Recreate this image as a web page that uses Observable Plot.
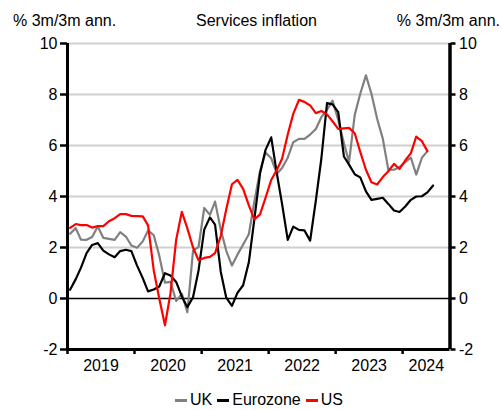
<!DOCTYPE html>
<html>
<head>
<meta charset="utf-8">
<script src="https://cdn.jsdelivr.net/npm/d3@7"></script>
<script src="https://cdn.jsdelivr.net/npm/@observablehq/plot@0.6"></script>
<style>
  html, body { margin: 0; padding: 0; background: #fff; }
  #page { position: relative; width: 502px; height: 410px; font-family: "Liberation Sans", Arial, sans-serif; font-size: 16px; color: #000; overflow: hidden; }
  .hdr { position: absolute; top: 13px; line-height: 16px; white-space: nowrap; }
  #chart { position: absolute; left: 0; top: 33px; }
  #legend { position: absolute; left: 175px; top: 391px; height: 18px; display: flex; align-items: center; white-space: nowrap; line-height: 16px; }
  .sw { display: inline-block; width: 12px; height: 3px; margin-right: 3px; }
  .lab { margin-right: 5px; }
</style>
</head>
<body>
<div id="page">
  <div class="hdr" style="left:13px;">% 3m/3m ann.</div>
  <div class="hdr" style="left:196px;">Services inflation</div>
  <div class="hdr" style="right:2px;">% 3m/3m ann.</div>
  <div id="chart"></div>
  <div id="legend"></div>
</div>
<script>
// Monthly series, first value = January 2019
const startYear = 2019, startMonth = 0;

const ukValues = [2.54, 2.76, 2.31, 2.3, 2.41, 2.82, 2.38, 2.34, 2.3, 2.6, 2.43, 2.08,
  1.99, 2.24, 2.67, 2.48, 1.68, 0.62, 0.65, -0.1, 0.18, -0.54, 1.88, 2.02,
  3.55, 3.28, 3.8, 2.7, 1.87, 1.29, 1.72, 2.12, 2.52, 3.8, 5.0, 5.72,
  5.5, 4.89, 5.12, 5.52, 6.13, 6.26, 6.26, 6.43, 6.65, 7.11, 7.4, 7.76,
  7.0, 6.09, 5.35, 7.2, 8.03, 8.75, 8.03, 7.05, 6.26, 5.05, 5.05, 5.15,
  5.35, 5.52, 4.86, 5.52, 5.78];

const ezValues = [0.34, 0.76, 1.2, 1.78, 2.1, 2.17, 1.88, 1.73, 1.62, 1.86, 1.91, 1.86,
  1.29, 0.8, 0.28, 0.35, 0.47, 0.99, 0.9, 0.65, 0.08, -0.34, 0.05, 1.1,
  2.7, 3.18, 2.9, 1.05, 0.03, -0.29, 0.22, 0.52, 1.42, 3.1, 4.9, 5.83,
  6.32, 4.89, 3.71, 2.3, 2.82, 2.69, 2.67, 2.27, 3.84, 5.48, 7.66, 7.61,
  7.31, 5.57, 5.25, 4.87, 4.75, 4.2, 3.87, 3.91, 3.95, 3.71, 3.45, 3.39,
  3.61, 3.87, 4.0, 4.01, 4.16, 4.43];

const usValues = [2.77, 2.92, 2.88, 2.88, 2.78, 2.84, 2.84, 3.03, 3.15, 3.31, 3.31, 3.24,
  3.23, 3.22, 2.87, 1.1, 0.0, -1.05, 0.2, 2.3, 3.4, 2.75, 2.0, 1.5,
  1.59, 1.63, 1.78, 2.45, 3.5, 4.48, 4.65, 4.3, 3.65, 3.1, 3.3, 3.95,
  4.65, 5.05, 5.48, 6.43, 7.24, 7.79, 7.71, 7.57, 7.27, 7.35, 7.22, 6.95,
  6.65, 6.67, 6.69, 6.48, 5.75, 5.05, 4.56, 4.47, 4.76, 4.99, 5.28, 5.08,
  5.41, 5.7, 6.35, 6.17, 5.78];

const seriesNames = ["UK", "Eurozone", "US"];
const seriesColors = ["#808080", "#000000", "#ff0000"];
const yTicks = [-2, 0, 2, 4, 6, 8, 10];
const gridValues = [2, 4, 6, 8, 10];
const yearLabels = ["2019", "2020", "2021", "2022", "2023", "2024"];

// ---- build tables ----
const toRows = (vals) => vals.map((v, i) => ({date: new Date(Date.UTC(startYear, startMonth + i, 15)), value: v}));
const series = [ukValues, ezValues, usValues].map(toRows);

const x0 = new Date(Date.UTC(2019, 0, 1));
const x1 = new Date(Date.UTC(2024, 8, 15));
const yearStarts = yearLabels.map(y => new Date(Date.UTC(+y, 0, 1)));
const labelRows = yearLabels.map(y => {
  const a = Math.max(Date.UTC(+y, 0, 1), +x0);
  const b = Math.min(Date.UTC(+y + 1, 0, 1), +x1);
  return {label: y, mid: new Date((a + b) / 2)};
});

const fmt = d => String(d);

const chart = Plot.plot({
  width: 502,
  height: 352,
  marginLeft: 67,
  marginRight: 52.5,
  marginTop: 10,
  marginBottom: 36,
  style: {fontFamily: '"Liberation Sans", Arial, sans-serif', fontSize: "16px", color: "#000", background: "#fff", overflow: "visible"},
  x: {type: "utc", domain: [x0, x1]},
  y: {domain: [-2, 10]},
  marks: [
    Plot.ruleY(gridValues, {stroke: "#d0d0d0", strokeWidth: 2}),
    Plot.ruleY([0], {stroke: "#000", strokeWidth: 1.6}),
    ...series.map((rows, i) => Plot.lineY(rows, {x: "date", y: "value", stroke: seriesColors[i], strokeWidth: 2.2})),
    Plot.axisY({anchor: "left", label: null, ticks: yTicks, tickSize: 7, tickPadding: 3, tickFormat: fmt, fontSize: 16, strokeWidth: 2.5}),
    Plot.axisY({anchor: "right", label: null, ticks: yTicks, tickSize: 5, tickPadding: 4, tickFormat: fmt, fontSize: 16, strokeWidth: 2.5}),
    Plot.axisX({label: null, ticks: yearStarts, tickSize: 5, tickFormat: () => "", strokeWidth: 2.5}),
    Plot.ruleX([x0], {stroke: "#000", strokeWidth: 3}),
    Plot.ruleX([x1], {stroke: "#000", strokeWidth: 3.5}),
    Plot.ruleY([-2], {stroke: "#000", strokeWidth: 3}),
    Plot.text(labelRows, {x: "mid", text: "label", frameAnchor: "bottom", dy: 21, fontSize: 16})
  ]
});
document.getElementById("chart").appendChild(chart);

// legend
const legend = document.getElementById("legend");
seriesNames.forEach((name, i) => {
  const sw = document.createElement("span");
  sw.className = "sw";
  sw.style.background = seriesColors[i];
  const lab = document.createElement("span");
  lab.className = "lab";
  lab.textContent = name;
  legend.appendChild(sw);
  legend.appendChild(lab);
});
</script>
</body>
</html>
